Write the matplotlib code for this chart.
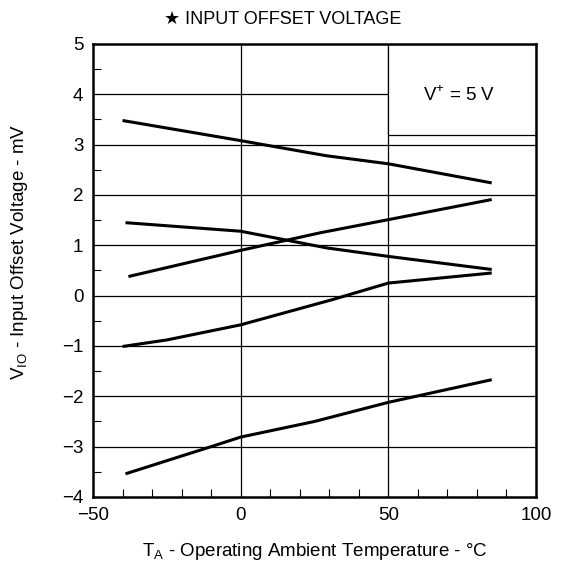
import numpy as np
import matplotlib
matplotlib.use('Agg')
import matplotlib.pyplot as plt
from matplotlib.patches import Rectangle

plt.rcParams['font.family'] = ['Liberation Sans', 'DejaVu Sans']
plt.rcParams['mathtext.fontset'] = 'custom'
plt.rcParams['mathtext.rm'] = 'Liberation Sans'
plt.rcParams['axes.unicode_minus'] = True

# temperature (C) and offset voltage (mV) for each sample curve
t1 = [-40, 0, 29, 50, 85]
v1 = [3.48, 3.08, 2.78, 2.62, 2.24]

t2 = [-38, 0, 27, 50, 85]
v2 = [0.38, 0.90, 1.25, 1.51, 1.91]

t3 = [-39, 0, 29, 50, 85]
v3 = [1.45, 1.28, 0.95, 0.78, 0.52]

t4 = [-40, -25, 0, 31, 50, 85]
v4 = [-1.01, -0.88, -0.58, -0.08, 0.25, 0.45]

t5 = [-39, -10, 0, 25, 50, 85]
v5 = [-3.54, -3.0, -2.81, -2.5, -2.12, -1.67]

xticks = [-50, 0, 50, 100]
yticks = list(range(-4, 6))

fig = plt.figure(figsize=(5.66, 5.67), dpi=100)
ax = fig.add_axes([0.1643, 0.1235, 0.947 - 0.1643, 0.9224 - 0.1235])

for t, v in [(t1, v1), (t2, v2), (t3, v3), (t4, v4), (t5, v5)]:
    ax.plot(t, v, color='black', lw=2.2, zorder=3, solid_capstyle='butt')

ax.set_xlim(-50, 100)
ax.set_ylim(-4, 5)
ax.set_xticks(xticks)
ax.set_yticks(yticks)
ax.set_xticks(np.arange(-40, 100, 10), minor=True)
ax.set_yticks(np.arange(-3.5, 5, 1.0), minor=True)

# grid lines
for x in [0, 50]:
    ax.axvline(x, color='black', lw=0.9, zorder=1)
for y in range(-3, 5):
    ax.axhline(y, color='black', lw=0.9, zorder=1)

# condition box
ax.add_patch(Rectangle((50, 3.2), 50, 1.8, facecolor='white',
                       edgecolor='black', lw=0.9, zorder=2))
ax.text(74, 3.98, 'V$^{+}$ = 5 V', ha='center', va='center', fontsize=13.5, zorder=4)

ax.tick_params(which='both', direction='in', top=False, right=False, labelsize=13.5)
ax.tick_params(which='major', length=0, pad=7)
ax.tick_params(which='minor', length=6, width=0.8)

for s in ax.spines.values():
    s.set_linewidth(1.8)

ax.set_xlabel(r'T$_{\mathrm{A}}$ - Operating Ambient Temperature - °C', fontsize=13.5)
ax.set_ylabel(r'V$_{\mathrm{IO}}$ - Input Offset Voltage - mV', fontsize=13.5)
ax.xaxis.set_label_coords(0.5, -0.097)
ax.yaxis.set_label_coords(-0.142, 0.54)

fig.text(0.5, 0.966, '★ INPUT OFFSET VOLTAGE', ha='center', va='center', fontsize=13)

fig.savefig('out.png', dpi=100)
